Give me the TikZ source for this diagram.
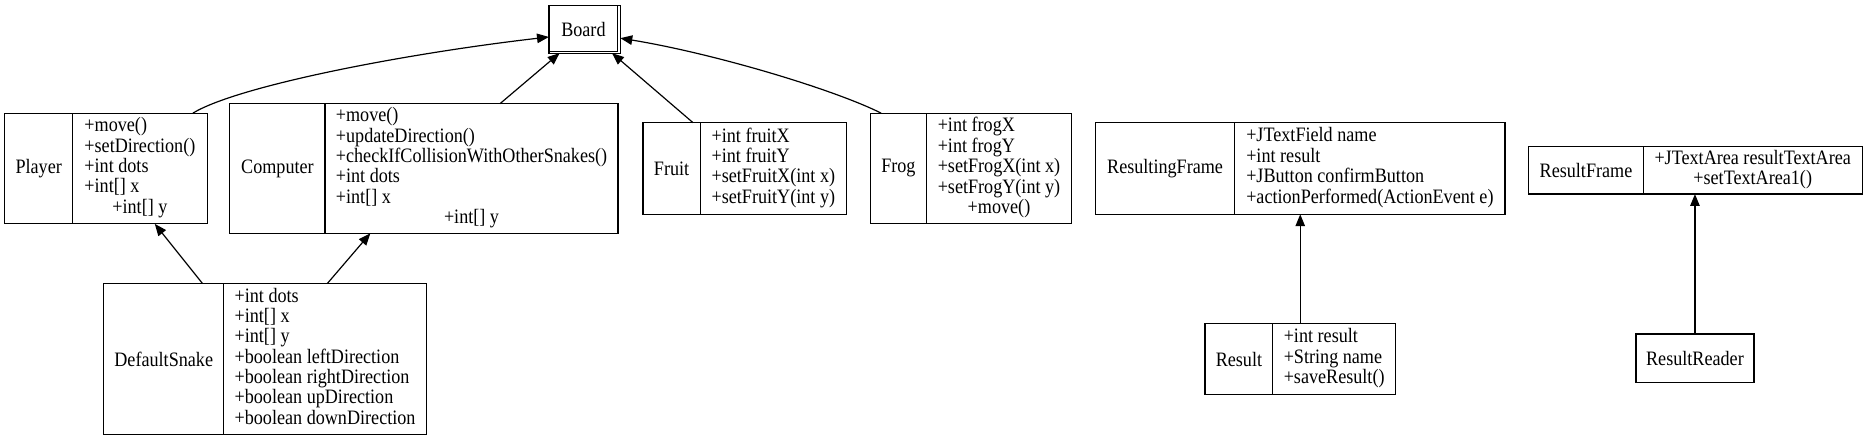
\documentclass[tikz,border=0pt]{standalone}
\usepackage{fontspec}
\setmainfont{Liberation Serif}[FakeStretch=0.885]
\usetikzlibrary{arrows.meta,fit}
\tikzset{
  box/.style={draw, line width=1pt, inner sep=0pt, outer sep=0pt},
  txt/.style={inner sep=0pt, font=\fontsize{17.2}{17}\selectfont},
  arr/.style={line width=1pt, -{Triangle[length=10pt,width=8pt]}}
}
\newcommand\umlclass[8]{%
  \node[box, fit={(#2,#3) (#4,#5)}] (#1) {};
  \draw[line width=1pt] (#6,#3) -- (#6,#5);
  \node[txt] (#1-l) at ({(#2+#6)/2},{(#3+#5)/2}) {#7};
  \node[txt] (#1-f) at ({(#6+#4)/2},{(#3+#5)/2}) {#8};
}
\newcommand\flds[1]{\begin{tabular}{@{}l@{}}#1\end{tabular}}
\newcommand\ctr[1]{\multicolumn{1}{@{}c@{}}{#1}}
\begin{document}
\begin{tikzpicture}[x=1pt,y=-1pt]
\useasboundingbox (0,0) rectangle (1568,370);
% Board
\node[box, fit={(461,4.5) (521,44.6)}] (board) {};
\draw[line width=1pt] (518.5,4.5) -- (518.5,43.4) -- (461,43.4);
\node[txt] (board-l) at (490,24.5) {Board};
% classes
\umlclass{player}{4}{95}{174}{188}{61}{Player}{\flds{+move()\\+setDirection()\\+int dots\\+int[] x\\\ctr{+int[] y}}}
\umlclass{computer}{193}{87}{519}{196}{273}{Computer}{\flds{+move()\\+updateDirection()\\+checkIfCollisionWithOtherSnakes()\\+int dots\\+int[] x\\\ctr{+int[] y}}}
\umlclass{fruit}{540}{103}{711}{180}{588}{Fruit}{\flds{+int fruitX\\+int fruitY\\+setFruitX(int x)\\+setFruitY(int y)}}
\umlclass{frog}{731}{95}{900}{188}{778}{Frog}{\flds{+int frogX\\+int frogY\\+setFrogX(int x)\\+setFrogY(int y)\\\ctr{+move()}}}
\umlclass{snake}{87}{238}{358}{365}{188}{DefaultSnake}{\flds{+int dots\\+int[] x\\+int[] y\\+boolean leftDirection\\+boolean rightDirection\\+boolean upDirection\\+boolean downDirection}}
\umlclass{resultingframe}{920}{103}{1264}{180}{1037}{ResultingFrame}{\flds{+JTextField name\\+int result\\+JButton confirmButton\\+actionPerformed(ActionEvent e)}}
\umlclass{result}{1012}{272}{1172}{331}{1069}{Result}{\flds{+int result\\+String name\\+saveResult()}}
\umlclass{resultframe}{1284}{123}{1564}{163}{1380}{ResultFrame}{\begin{tabular}{@{}c@{}}+JTextArea resultTextArea\\+setTextArea1()\end{tabular}}
\node[box, fit={(1374,280.5) (1473,321.5)}] (reader) {};
\node[txt] (reader-l) at (1423.5,301) {ResultReader};
% edges
\draw[arr] ([xshift=158pt]player.north west) .. controls (200,72) and (340,45) .. ([yshift=-6.5pt]board.west);
\draw[arr] ([xshift=227pt]computer.north west) -- ([xshift=9pt]board.south west);
\draw[arr] ([xshift=42pt]fruit.north west) -- ([xshift=-7pt]board.south east);
\draw[arr] ([xshift=9pt]frog.north west) .. controls (700,75) and (600,45) .. ([yshift=-7.5pt]board.east);
\draw[arr] ([xshift=83pt]snake.north west) -- ([xshift=126pt]player.south west);
\draw[arr] ([xshift=188pt]snake.north west) -- ([xshift=118pt]computer.south west);
\draw[arr] ([xshift=80pt]result.north west) -- ([xshift=172pt]resultingframe.south west);
\draw[arr] ([xshift=49.5pt]reader.north west) -- ([xshift=139.5pt]resultframe.south west);
\end{tikzpicture}
\end{document}
